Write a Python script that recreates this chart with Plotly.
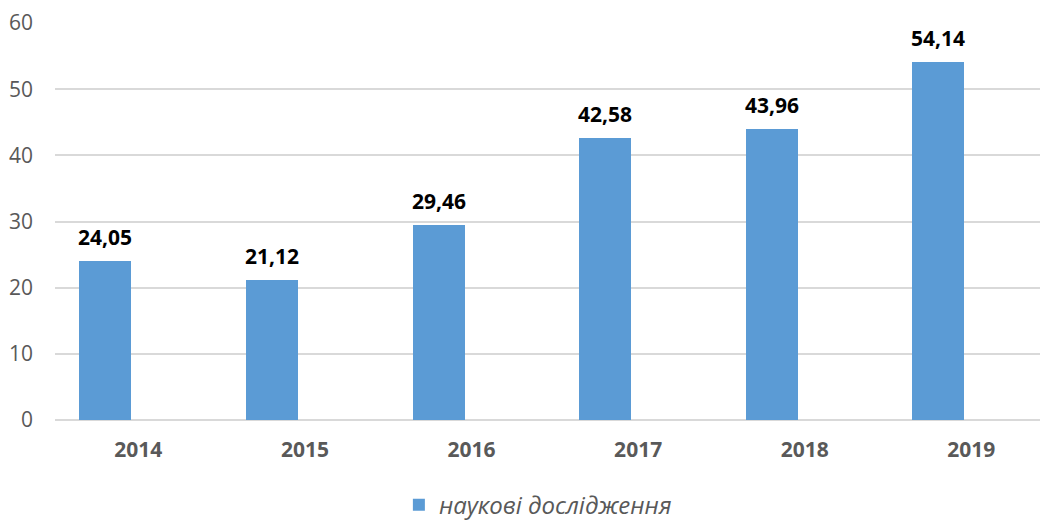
import plotly.graph_objects as go

years = ["2014", "2015", "2016", "2017", "2018", "2019"]
values = [24.05, 21.12, 29.46, 42.58, 43.96, 54.14]
series_name = "наукові дослідження"
y_ticks = [0, 10, 20, 30, 40, 50, 60]

FONT = "Open Sans"
GRAY = "#595959"
BAR = "#5B9BD5"

fig = go.Figure()
fig.add_trace(go.Bar(
    x=years, y=values, name=series_name,
    marker=dict(color=BAR, line=dict(width=0)),
    offset=-0.354, width=0.312,
))

for i, v in enumerate(values):
    fig.add_annotation(
        x=i, y=v, xref="x", yref="y",
        text="<b>" + f"{v:.2f}".replace(".", ",") + "</b>",
        showarrow=False, xanchor="center", yanchor="bottom",
        xshift=-33, yshift=8,
        font=dict(family=FONT, size=21, color="#000000"),
    )

# page body has an 8px margin, so the figure is drawn 8px smaller and shifted
fig.update_layout(
    width=1040, height=512,
    margin=dict(l=47, r=0, t=12, b=100),
    plot_bgcolor="white", paper_bgcolor="white",
    bargap=0,
    showlegend=True,
    legend=dict(
        orientation="h", xref="container", yref="container",
        x=0.5095, y=0.029, xanchor="center", yanchor="middle",
        font=dict(family=FONT, size=24, color=GRAY, style="italic"),
    ),
    xaxis=dict(
        type="category", range=[-0.5, 5.46],
        showgrid=False, showline=False, ticks="",
        tickfont=dict(family=FONT, size=21, color=GRAY, weight="bold"),
        ticklabelstandoff=15,
    ),
    yaxis=dict(
        range=[0, 60], tickvals=y_ticks,
        showgrid=True, gridcolor="#D9D9D9", gridwidth=1.5,
        zeroline=True, zerolinecolor="#D9D9D9", zerolinewidth=1.5,
        showline=False, ticks="",
        tickfont=dict(family=FONT, size=21, color=GRAY),
        ticklabelstandoff=21, ticklabeloverflow="allow",
    ),
)

fig.write_html("out.html")
